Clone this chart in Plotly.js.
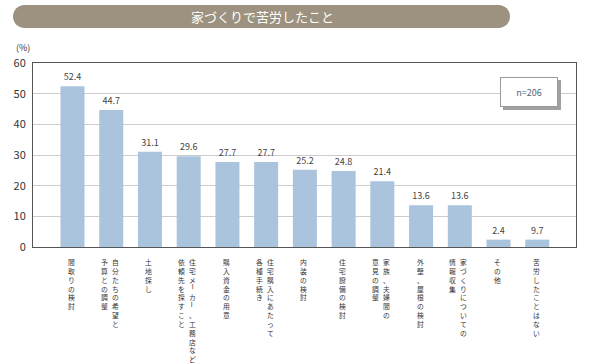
<!DOCTYPE html>
<html>
<head>
<meta charset="utf-8">
<script src="https://cdn.plot.ly/plotly-3.0.1.min.js"></script>
<style>html,body{margin:0;padding:0;background:#fff;}#chart{width:600px;height:363px;}</style>
</head>
<body>
<div id="chart"></div>
<script>
// Data
const categories = ["間取りの検討","自分たちの希望と予算との調整","土地探し","住宅メーカー、工務店など依頼先を探すこと","購入資金の用意","住宅購入にあたって各種手続き","内装の検討","住宅設備の検討","家族、夫婦間の意見の調整","外壁、屋根の検討","家づくりについての情報収集","その他","苦労したことはない"];
// vertical label columns (right column first)
const labelColumns = [
  ["間取りの検討"],
  ["自分たちの希望と","予算との調整"],
  ["土地探し"],
  ["住宅メーカー、工務店など","依頼先を探すこと"],
  ["購入資金の用意"],
  ["住宅購入にあたって","各種手続き"],
  ["内装の検討"],
  ["住宅設備の検討"],
  ["家族、夫婦間の","意見の調整"],
  ["外壁、屋根の検討"],
  ["家づくりについての","情報収集"],
  ["その他"],
  ["苦労したことはない"]
];
// bar heights as drawn in the picture (the last bar is drawn at ~2.4 although labelled 9.7)
const barValues = [52.4, 44.7, 31.1, 29.6, 27.7, 27.7, 25.2, 24.8, 21.4, 13.6, 13.6, 2.4, 2.4];
const valueLabels = ["52.4","44.7","31.1","29.6","27.7","27.7","25.2","24.8","21.4","13.6","13.6","2.4","9.7"];
const yTicks = [0,10,20,30,40,50,60];
const titleText = "家づくりで苦労したこと";
const nText = "n=206";

// geometry of plot area in pixels
const W = 600, H = 363;
const L = 33, R = 576, T = 63, B = 247;
const px = x => (x - L) / (R - L);
const py = y => (B - y) / (B - T);
const FONT = '"Noto Sans CJK JP", "Noto Sans", sans-serif';

const xIdx = categories.map((c, i) => i);

const trace = {
  type: 'bar',
  x: xIdx,
  y: barValues,
  width: 0.62,
  marker: {color: '#a9c4dc', line: {width: 0}},
  text: valueLabels,
  textposition: 'outside',
  cliponaxis: false,
  textfont: {family: FONT, size: 9, color: '#444'},
  hoverinfo: 'none'
};

const annotations = [];
// vertical category labels: one stacked annotation per run of characters
const LFS = 6.8;             // label font size
const pitch = LFS * 1.3;     // plotly line height
const top0 = 9;              // px below axis where labels start
labelColumns.forEach((cols, i) => {
  const shifts = cols.length === 1 ? [-1] : [4, -7];
  cols.forEach((col, j) => {
    const chars = Array.from(col);
    let run = [], runStart = 0;
    const flush = () => {
      if (run.length) {
        annotations.push({
          xref: 'x', x: i, yref: 'paper', y: 0,
          text: run.join('<br>'), showarrow: false,
          xanchor: 'center', yanchor: 'top', align: 'center', borderpad: 0,
          xshift: shifts[j], yshift: -(top0 + runStart * pitch),
          font: {family: FONT, size: LFS, color: '#333'}
        });
      }
      run = [];
    };
    chars.forEach((ch, k) => {
      if (ch === 'ー') {
        flush();
        annotations.push({
          xref: 'x', x: i, yref: 'paper', y: 0,
          text: ch, showarrow: false, textangle: 90, borderpad: 0,
          xanchor: 'center', yanchor: 'middle',
          xshift: shifts[j], yshift: -(top0 + k * pitch + pitch / 2),
          font: {family: FONT, size: LFS, color: '#333'}
        });
        runStart = k + 1;
      } else {
        if (!run.length) runStart = k;
        run.push(ch);
      }
    });
    flush();
  });
});

// (%) unit
annotations.push({xref: 'paper', yref: 'paper', x: px(23), y: py(48), text: '(%)', showarrow: false,
  xanchor: 'center', yanchor: 'middle', font: {family: FONT, size: 9, color: '#333'}});
// title
annotations.push({xref: 'paper', yref: 'paper', x: px(262), y: py(16.5), text: titleText, showarrow: false,
  xanchor: 'center', yanchor: 'middle', font: {family: FONT, size: 13, color: '#ffffff'}});
// n box
annotations.push({xref: 'paper', yref: 'paper', x: px(529), y: py(92), text: nText, showarrow: false,
  xanchor: 'center', yanchor: 'middle', width: 56, height: 28, borderpad: 0, borderwidth: 1,
  bordercolor: '#9a9a9a', bgcolor: '#ffffff', font: {family: FONT, size: 9, color: '#556677'}});

// rounded banner path
function roundedRect(x0, y0, x1, y1, r) {
  const k = 0.5523 * r;
  const P = (x, y) => px(x).toFixed(5) + ',' + py(y).toFixed(5);
  return 'M' + P(x0 + r, y0) + ' L' + P(x1 - r, y0) +
    ' C' + P(x1 - r + k, y0) + ' ' + P(x1, y0 + r - k) + ' ' + P(x1, y0 + r) +
    ' C' + P(x1, y0 + r + k) + ' ' + P(x1 - r + k, y1) + ' ' + P(x1 - r, y1) +
    ' L' + P(x0 + r, y1) +
    ' C' + P(x0 + r - k, y1) + ' ' + P(x0, y1 - r + k) + ' ' + P(x0, y1 - r) +
    ' C' + P(x0, y0 + r - k) + ' ' + P(x0 + r - k, y0) + ' ' + P(x0 + r, y0) + ' Z';
}

const shapes = [
  {type: 'path', xref: 'paper', yref: 'paper', path: roundedRect(13, 5, 510, 28, 11.5),
   fillcolor: '#9c927f', line: {width: 0}, layer: 'above'},
  {type: 'rect', xref: 'paper', yref: 'paper', x0: px(503), x1: px(561), y0: py(110), y1: py(80),
   fillcolor: '#a0a0a0', line: {width: 0}, layer: 'above'}
];

const layout = {
  width: W, height: H,
  margin: {l: L, r: W - R, t: T, b: H - B},
  paper_bgcolor: '#ffffff', plot_bgcolor: '#ffffff',
  showlegend: false,
  xaxis: {range: [-1.02, 13], showticklabels: false, ticks: '', showgrid: false, zeroline: false,
    showline: true, mirror: true, linecolor: '#555', linewidth: 1, fixedrange: true},
  yaxis: {range: [0, 60], tickvals: yTicks, ticks: '', showgrid: true, gridcolor: '#cccccc', gridwidth: 1,
    zeroline: false, showline: true, mirror: true, linecolor: '#555', linewidth: 1,
    tickfont: {family: FONT, size: 11, color: '#333'}, ticklabelstandoff: 4, fixedrange: true},
  font: {family: FONT},
  annotations: annotations,
  shapes: shapes
};

Plotly.newPlot('chart', [trace], layout, {displayModeBar: false, staticPlot: true});
</script>
</body>
</html>
